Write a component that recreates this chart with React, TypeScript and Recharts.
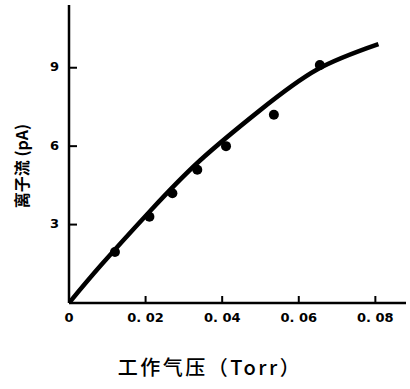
import {
  ComposedChart,
  Line,
  Scatter,
  XAxis,
  YAxis,
  Label,
} from "recharts";

// measured points (pressure in Torr, ion current in pA)
const pressure = [0.012, 0.021, 0.027, 0.0335, 0.041, 0.0535, 0.0655];
const current = [1.95, 3.3, 4.2, 5.1, 6.0, 7.2, 9.1];

// fitted curve as drawn
const curveX = [0, 0.0085, 0.0212, 0.0342, 0.0496, 0.0648, 0.0808];
const curveY = [0, 1.47, 3.52, 5.45, 7.34, 8.93, 9.9];

const xTicks = [0, 0.02, 0.04, 0.06, 0.08];
const yTicks = [3, 6, 9];

const points = pressure.map((p, i) => ({ x: p, y: current[i] }));
const curve = curveX.map((p, i) => ({ x: p, y: curveY[i] }));

const tickFont = {
  fontFamily: "DejaVu Sans",
  fontSize: 13,
  fontWeight: "bold" as const,
  fill: "#000",
};

function XTick({ x, y, payload }: any) {
  const v = payload.value as number;
  const label = v === 0 ? "0" : v.toFixed(2).replace(".", ". ");
  return (
    <g>
      {v !== 0 && <line x1={x} y1={y} x2={x} y2={y - 7} stroke="#000" strokeWidth={2} />}
      <text x={x} y={y + 15} textAnchor="middle" dominantBaseline="middle" {...tickFont}>
        {label}
      </text>
    </g>
  );
}

function YTick({ x, y, payload }: any) {
  return (
    <g>
      <line x1={x} y1={y} x2={x + 8} y2={y} stroke="#000" strokeWidth={2} />
      <text x={x - 10} y={y} textAnchor="end" dominantBaseline="middle" {...tickFont}>
        {payload.value}
      </text>
    </g>
  );
}

export default function App() {
  return (
    <div style={{ position: "absolute", left: 0, top: 0, background: "#fff" }}>
      <ComposedChart
        width={410}
        height={389}
        margin={{ top: 5, right: 4, bottom: 6, left: 0 }}
      >
        <XAxis
          type="number"
          dataKey="x"
          domain={[0, 0.088]}
          ticks={xTicks}
          allowDataOverflow
          height={80}
          tickSize={0}
          tickMargin={0}
          tickLine={false}
          tick={<XTick />}
          axisLine={{ stroke: "#000", strokeWidth: 2.5 }}
        >
          <Label
            content={() => (
              <text
                x={210}
                y={370}
                textAnchor="middle"
                dominantBaseline="middle"
                fontFamily="'Noto Sans CJK SC'"
                fontWeight={500}
                fontSize={20}
                fill="#000"
                letterSpacing={2.5}
              >
                工作气压（Torr）
              </text>
            )}
          />
        </XAxis>
        <YAxis
          type="number"
          dataKey="y"
          domain={[0, 11.4]}
          ticks={yTicks}
          allowDataOverflow
          width={69}
          tickSize={0}
          tickMargin={0}
          tickLine={false}
          tick={<YTick />}
          axisLine={{ stroke: "#000", strokeWidth: 2.5 }}
        >
          <Label
            content={() => (
              <text
                x={24}
                y={166}
                transform="rotate(-90 24 166)"
                textAnchor="middle"
                dominantBaseline="middle"
                fontFamily="'Noto Sans CJK SC'"
                fontWeight="bold"
                fontSize={16}
                fill="#000"
              >
                离子流 (pA)
              </text>
            )}
          />
        </YAxis>
        <Line
          data={curve}
          dataKey="y"
          type="natural"
          stroke="#000"
          strokeWidth={4.5}
          dot={false}
          activeDot={false}
          isAnimationActive={false}
        />
        <Scatter
          data={points}
          dataKey="y"
          fill="#000"
          shape={(p: any) => <circle cx={p.cx} cy={p.cy} r={5} fill="#000" />}
          isAnimationActive={false}
        />
      </ComposedChart>
    </div>
  );
}
